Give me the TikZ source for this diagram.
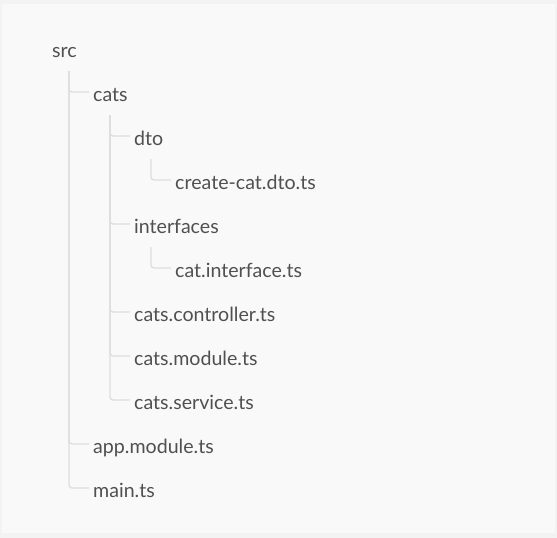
\documentclass[tikz,border=0pt]{standalone}
\usepackage{fontspec}
\setmainfont{Lato}
\begin{document}
\begin{tikzpicture}[x=1pt,y=-1pt,
  item/.style={anchor=base west,inner sep=0pt,text=txt,font=\fontsize{19.6}{22}\selectfont},
  conn/.style={draw=ln,line width=1.4pt,rounded corners=3pt}]
\definecolor{txt}{HTML}{505050}
\definecolor{ln}{HTML}{DEDEDE}
\fill[fill={rgb,255:red,243;green,243;blue,243}] (0,0) rectangle (557,538);
\fill[fill={rgb,255:red,249;green,249;blue,249}] (2,4) rectangle (555,533);
\useasboundingbox (0,0) rectangle (557,538);
\node[item] (src) at (52,57) {src};
\node[item] (cats) at (93,101) {cats};
\node[item] (dto) at (134,145) {dto};
\node[item] (create) at (175,189) {create-cat.dto.ts};
\node[item] (interfaces) at (134,233) {interfaces};
\node[item] (catif) at (175,277) {cat.interface.ts};
\node[item] (ctrl) at (134,321) {cats.controller.ts};
\node[item] (module) at (134,365) {cats.module.ts};
\node[item] (service) at (134,409) {cats.service.ts};
\node[item] (app) at (93,453) {app.module.ts};
\node[item] (main) at (93,497) {main.ts};
\foreach \p/\c in {src/cats,src/app,src/main,cats/dto,cats/interfaces,cats/ctrl,cats/module,cats/service,dto/create,interfaces/catif}
  \draw[conn] ([xshift=17pt,yshift=-14pt]\p.base west) |- ([xshift=-4pt,yshift=9pt]\c.base west);
\end{tikzpicture}
\end{document}
